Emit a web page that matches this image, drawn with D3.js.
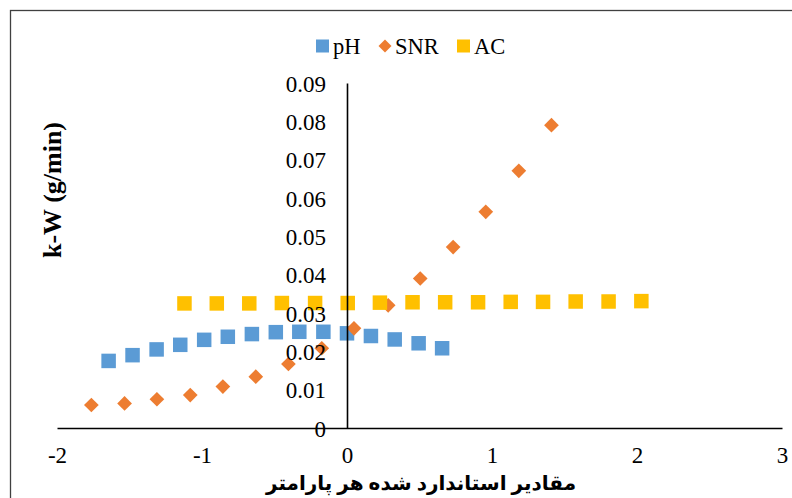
<!DOCTYPE html>
<html>
<head>
<meta charset="utf-8">
<script src="https://cdn.jsdelivr.net/npm/d3@7"></script>
<style>
  html, body { margin: 0; padding: 0; background: #fff; }
  svg { display: block; }
</style>
</head>
<body>
<svg id="chart" width="792" height="498"></svg>
<script>
// ---- data ----
const seriesNames = ["pH", "SNR", "AC"];
const xTicks = [-2, -1, 0, 1, 2, 3];
const yTicks = [0, 0.01, 0.02, 0.03, 0.04, 0.05, 0.06, 0.07, 0.08, 0.09];

const phX = [-1.644, -1.479, -1.313, -1.150, -0.985, -0.822, -0.656, -0.491, -0.329, -0.163, 0.0, 0.165, 0.329, 0.494, 0.656];
const phY = [0.0175, 0.0190, 0.0205, 0.0217, 0.0230, 0.0238, 0.0245, 0.0250, 0.0251, 0.0251, 0.0247, 0.0240, 0.0231, 0.0221, 0.0208];

const snrX = [-1.763, -1.534, -1.311, -1.081, -0.856, -0.629, -0.404, -0.174, 0.048, 0.284, 0.505, 0.732, 0.957, 1.185, 1.410];
const snrY = [0.0060, 0.0064, 0.0075, 0.0086, 0.0108, 0.0134, 0.0167, 0.0208, 0.0260, 0.0320, 0.0390, 0.0472, 0.0564, 0.0671, 0.0790];

const acX = [-1.121, -0.898, -0.674, -0.449, -0.220, 0.005, 0.227, 0.452, 0.677, 0.904, 1.129, 1.352, 1.577, 1.804, 2.030];
const acY = [0.0325, 0.0325, 0.0325, 0.0326, 0.0326, 0.0326, 0.0327, 0.0328, 0.0328, 0.0328, 0.0329, 0.0329, 0.0330, 0.0330, 0.0331];

const colors = { pH: "#5B9BD5", SNR: "#ED7D31", AC: "#FFC000" };

// ---- layout ----
const SERIF = "\"Liberation Serif\", \"Times New Roman\", serif";
const svg = d3.select("#chart");
const x = d3.scaleLinear().domain([-2, 3]).range([57, 782]);
const y = d3.scaleLinear().domain([0, 0.09]).range([428, 83]);

// outer frame
svg.append("rect").attr("x", 10.5).attr("y", 10.5).attr("width", 800).attr("height", 600)
  .attr("fill", "none").attr("stroke", "#404040").attr("stroke-width", 1.3);

const zip = (xs, ys) => xs.map((v, i) => ({ x: v, y: ys[i] }));
const sq = 14.5;

// pH squares
svg.append("g").selectAll("rect").data(zip(phX, phY)).join("rect")
  .attr("x", d => x(d.x) - sq / 2).attr("y", d => y(d.y) - sq / 2)
  .attr("width", sq).attr("height", sq).attr("fill", colors.pH);

// SNR diamonds
const dsz = 10.4;
svg.append("g").selectAll("rect").data(zip(snrX, snrY)).join("rect")
  .attr("x", -dsz / 2).attr("y", -dsz / 2).attr("width", dsz).attr("height", dsz)
  .attr("transform", d => `translate(${x(d.x)},${y(d.y)}) rotate(45)`)
  .attr("fill", colors.SNR);

// AC squares
svg.append("g").selectAll("rect").data(zip(acX, acY)).join("rect")
  .attr("x", d => x(d.x) - sq / 2).attr("y", d => y(d.y) - sq / 2)
  .attr("width", sq).attr("height", sq).attr("fill", colors.AC);

// axes
const xAxis = d3.axisBottom(x).tickValues(xTicks).tickSize(0).tickFormat(d => String(d));
const gx = svg.append("g").attr("transform", `translate(0,${y(0)})`).call(xAxis);
gx.attr("font-family", null).attr("font-size", null);
gx.select(".domain").attr("stroke", "#000").attr("stroke-width", 1.6);
gx.selectAll("text").style("font-family", SERIF).style("font-size", "23px").attr("fill", "#000")
  .attr("dy", "0").attr("y", 35);

const yAxis = d3.axisLeft(y).tickValues(yTicks).tickSize(0)
  .tickFormat(d => d === 0 ? "0" : d3.format(".2f")(d));
const gy = svg.append("g").attr("transform", `translate(${x(0)},0)`).call(yAxis);
gy.attr("font-family", null).attr("font-size", null);
gy.select(".domain").attr("stroke", "#000").attr("stroke-width", 1.6);
gy.selectAll("text").style("font-family", SERIF).style("font-size", "23px").attr("fill", "#000")
  .attr("x", -21).attr("dy", "0.35em");

// axis titles
svg.append("text").attr("transform", "translate(61,190) rotate(-90)")
  .attr("text-anchor", "middle").style("font-family", SERIF).style("font-weight", "bold")
  .style("font-size", "26px").text("k-W (g/min)");

svg.append("text").attr("x", 421).attr("y", 490)
  .attr("text-anchor", "middle")
  .style("font-family", "\"Liberation Serif\", \"DejaVu Sans\", serif")
  .style("font-weight", "bold").style("font-size", "20px").attr("direction", "rtl")
  .text("مقادیر استاندارد شده هر پارامتر");

// legend
const legend = svg.append("g").attr("transform", "translate(316,46)");
const legendItems = [
  { name: "pH", dx: 0, shape: "square" },
  { name: "SNR", dx: 62, shape: "diamond" },
  { name: "AC", dx: 141, shape: "square" }
];
legendItems.forEach(it => {
  const g = legend.append("g").attr("transform", `translate(${it.dx},0)`);
  if (it.shape === "square") {
    g.append("rect").attr("x", 0).attr("y", -6.5).attr("width", 13).attr("height", 13).attr("fill", colors[it.name]);
  } else {
    g.append("rect").attr("x", -4.6).attr("y", -4.6).attr("width", 9.2).attr("height", 9.2)
      .attr("transform", "translate(7,0) rotate(45)").attr("fill", colors[it.name]);
  }
  g.append("text").attr("x", 17).attr("y", 7.5).style("font-family", SERIF).style("font-size", "22.5px")
    .attr("fill", "#000").text(it.name);
});
</script>
</body>
</html>
